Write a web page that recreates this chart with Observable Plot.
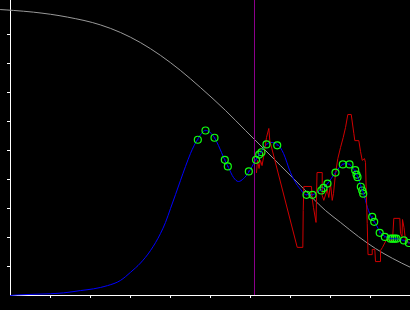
<!DOCTYPE html>
<html><head><meta charset="utf-8">
<script src="https://cdn.jsdelivr.net/npm/d3@7"></script>
<script src="https://cdn.jsdelivr.net/npm/@observablehq/plot@0.6"></script>
<style>html,body{margin:0;padding:0;background:#000;overflow:hidden}</style>
</head><body><div id="chart"></div>
<script>
// Gray (prior-like) curve
const grayX = [-0.25,0.075,0.575,1.425,2.25,2.75,3.25,3.75,4.25,4.75,5.375,5.875,6.325,6.75,7.25,7.875,8.25,8.7,9.125,9.55,10];
const grayY = [0.986,0.983,0.977,0.960,0.933,0.907,0.872,0.828,0.776,0.717,0.638,0.569,0.507,0.448,0.379,0.293,0.252,0.203,0.162,0.128,0.097];
// Blue (mean) curve
const blueX = [0,0.175,1.0,1.325,1.75,2.075,2.425,2.75,3.0,3.25,3.5,3.75,3.875,4.0,4.125,4.25,4.375,4.5,4.675,4.875,5.1,5.2,5.35,5.45,5.575,5.7,5.825,5.95,6.125,6.25,6.375,6.5,6.675,6.825,7.0,7.175,7.25,7.375,7.55,7.7,7.8,7.925,8.125,8.3,8.375,8.475,8.625,8.675,8.775,8.825,8.925,9.025,9.125,9.25,9.375,9.55,9.675,9.825,10];
const blueY = [0,0.002,0.006,0.009,0.017,0.023,0.034,0.052,0.080,0.112,0.155,0.214,0.252,0.300,0.348,0.397,0.445,0.490,0.538,0.569,0.544,0.517,0.469,0.441,0.407,0.393,0.403,0.424,0.466,0.493,0.517,0.528,0.521,0.490,0.424,0.379,0.366,0.348,0.348,0.359,0.369,0.386,0.424,0.452,0.455,0.452,0.424,0.410,0.372,0.352,0.303,0.269,0.248,0.217,0.203,0.197,0.195,0.190,0.181];
// Green observation circles
const obsX = [4.683,4.875,5.1,5.358,5.433,5.958,6.138,6.218,6.275,6.4,6.668,7.4,7.55,7.77,7.825,7.925,8.125,8.308,8.475,8.618,8.65,8.675,8.758,8.793,8.818,9.043,9.093,9.23,9.358,9.5,9.55,9.6,9.65,9.833,9.958];
const obsY = [0.537,0.569,0.544,0.468,0.445,0.428,0.468,0.486,0.494,0.521,0.518,0.347,0.347,0.362,0.371,0.386,0.424,0.452,0.452,0.432,0.417,0.408,0.375,0.362,0.351,0.271,0.254,0.216,0.202,0.196,0.196,0.196,0.196,0.190,0.181];
// Red (observed signal) line
const redX = [6.15,6.175,6.213,6.25,6.288,6.325,6.4,6.458,6.483,7.168,7.308,7.318,7.333,7.525,7.538,7.575,7.638,7.663,7.793,7.793,7.833,7.918,7.958,8.0,8.043,8.075,8.125,8.183,8.25,8.318,8.375,8.433,8.518,8.583,8.608,8.708,8.75,8.793,8.85,8.875,8.893,8.918,8.938,9.043,9.043,9.108,9.125,9.25,9.25,9.3,9.4,9.55,9.583,9.733,9.75,9.788,9.8,9.838,9.875,10];
const redY = [0.424,0.466,0.438,0.466,0.448,0.476,0.545,0.576,0.534,0.166,0.166,0.293,0.376,0.376,0.338,0.303,0.252,0.424,0.424,0.345,0.328,0.366,0.338,0.386,0.328,0.352,0.421,0.472,0.510,0.545,0.579,0.624,0.624,0.559,0.534,0.534,0.497,0.466,0.472,0.459,0.362,0.248,0.141,0.141,0.159,0.159,0.117,0.117,0.155,0.166,0.193,0.190,0.266,0.266,0.214,0.203,0.262,0.234,0.190,0.179];
// Vertical marker
const markerX = [6.1];
// Tick positions
const xTicks = [1,2,3,4,5,6,7,8,9];
const yTicks = [0.1,0.2,0.3,0.4,0.5,0.6,0.7,0.8,0.9];

const gray = grayX.map((x,i)=>({x, y: grayY[i]}));
const blue = blueX.map((x,i)=>({x, y: blueY[i]}));
const obs = obsX.map((x,i)=>({x, y: obsY[i]}));
const red = redX.map((x,i)=>({x, y: redY[i]}));

const chart = Plot.plot({
  width: 410, height: 310,
  marginLeft: 10, marginRight: 0, marginTop: 0, marginBottom: 15,
  style: {background: "#000", color: "white", fontSize: "1px"},
  x: {domain: [0, 10], ticks: xTicks, tickSize: 3, tickFormat: () => "", label: null},
  y: {domain: [0, 295/290], ticks: yTicks, tickSize: 3, tickFormat: () => "", label: null},
  marks: [
    Plot.ruleX([0], {stroke: "white", strokeWidth: 1}),
    Plot.ruleY([0], {stroke: "white", strokeWidth: 1}),
    Plot.line(gray, {x: "x", y: "y", stroke: "#999999", strokeWidth: 1, curve: "monotone-x"}),
    Plot.line(blue, {x: "x", y: "y", stroke: "#0000ff", strokeWidth: 1, curve: "monotone-x"}),
    Plot.line(red, {x: "x", y: "y", stroke: "#d00000", strokeWidth: 1}),
    Plot.ruleX(markerX, {stroke: "#8b008b", strokeWidth: 1}),
    Plot.dot(obs, {x: "x", y: "y", r: 3.5, stroke: "#11ff11", strokeWidth: 1.2, fill: "none"}),
    Plot.dot(obs, {x: "x", y: "y", r: 0.8, fill: "#0000cc", stroke: "none"})
  ]
});
document.getElementById("chart").append(chart);
</script>
</body></html>
